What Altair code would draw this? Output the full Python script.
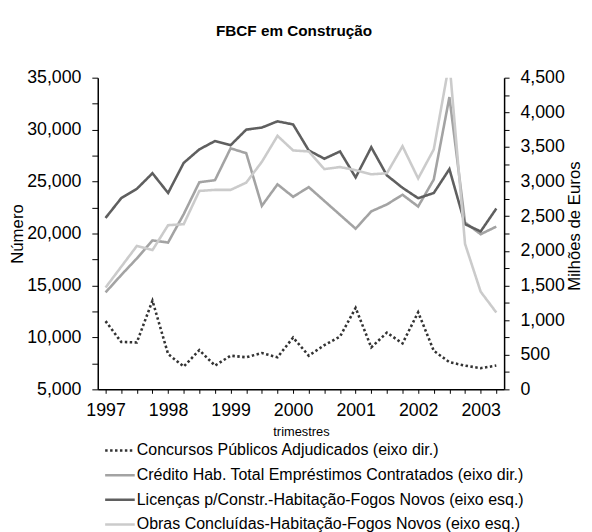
import altair as alt
import pandas as pd

quarters = [1997 + 0.25 * i for i in range(26)]

series_names = [
    "Concursos Públicos Adjudicados (eixo dir.)",
    "Crédito Hab. Total Empréstimos Contratados (eixo dir.)",
    "Licenças p/Constr.-Habitação-Fogos Novos (eixo esq.)",
    "Obras Concluídas-Habitação-Fogos Novos (eixo esq.)",
]
series_colors = ["#333333", "#a3a3a3", "#5f5f5f", "#cbcbcb"]
series_dash = [[2.5, 2.5], [1, 0], [1, 0], [1, 0]]

# left axis (Número)
licencas = [21500, 23400, 24300, 25800, 23900, 26800, 28100, 28900, 28500, 30000,
            30200, 30800, 30500, 28000, 27200, 27900, 25400, 28300, 25600, 24400,
            23400, 23900, 26200, 20900, 20200, 22400]
obras = [14800, 16800, 18800, 18400, 20800, 20900, 24100, 24200, 24200, 24900,
         26900, 29400, 28000, 27900, 26200, 26400, 26100, 25700, 25800, 28400,
         25300, 28100, 36500, 19000, 14400, 12400]
# right axis (Milhões de Euros)
concursos = [985, 685, 677, 1280, 510, 329, 567, 343, 486, 463,
             524, 463, 748, 486, 638, 762, 1176, 606, 819, 663,
             1113, 557, 392, 343, 306, 343]
credito = [1400, 1650, 1890, 2150, 2120, 2530, 2990, 3020, 3480, 3410,
           2650, 2960, 2780, 2920, 2720, 2520, 2320, 2570, 2670, 2810,
           2640, 3030, 4220, 2410, 2240, 2350]

left_df = pd.concat([
    pd.DataFrame({"t": quarters, "v": licencas, "s": series_names[2]}),
    pd.DataFrame({"t": quarters, "v": obras, "s": series_names[3]}),
])
right_df = pd.concat([
    pd.DataFrame({"t": quarters, "v": concursos, "s": series_names[0]}),
    pd.DataFrame({"t": quarters, "v": credito, "s": series_names[1]}),
])

FONT = "Liberation Sans"

x_enc = alt.X(
    "t:Q",
    scale=alt.Scale(domain=[1996.875, 2003.375], nice=False, zero=False),
    axis=alt.Axis(
        values=quarters,
        labelExpr="datum.value % 1 == 0 ? toString(datum.value) : ''",
        grid=False, tickSize=4, labelFontSize=18, labelOverlap=False,
        labelFlush=False, labelPadding=9,
        title="trimestres", titleFontSize=13, titleFontWeight="normal",
        titlePadding=6,
    ),
)

color_enc = alt.Color(
    "s:N",
    scale=alt.Scale(domain=series_names, range=series_colors),
    legend=alt.Legend(
        title=None, orient="none", legendX=13.5, legendY=369, direction="vertical",
        symbolType="M-2,0H2", symbolSize=225, symbolStrokeWidth=2.5,
        labelFontSize=16.2, labelFont=FONT, rowPadding=7, labelLimit=600,
        labelOffset=8, symbolOffset=0,
    ),
)
dash_enc = alt.StrokeDash(
    "s:N",
    scale=alt.Scale(domain=series_names, range=series_dash),
    legend=None,
)

left = alt.Chart(left_df).mark_line(strokeWidth=2.6, clip=True).encode(
    x=x_enc,
    y=alt.Y(
        "v:Q",
        scale=alt.Scale(domain=[5000, 35000], nice=False, zero=False),
        axis=alt.Axis(
            values=list(range(5000, 35001, 2500)),
            labelExpr="datum.value % 5000 == 0 ? format(datum.value, ',') : ''",
            grid=False, tickSize=6, labelFontSize=18, labelPadding=11,
            title="Número", titleFontSize=17, titleFontWeight="normal",
            titleAngle=270, titleX=-81, titleY=158, titleAlign="center",
            titleBaseline="middle",
        ),
    ),
    color=color_enc,
    strokeDash=dash_enc,
)

right = alt.Chart(right_df).mark_line(strokeWidth=2.6, clip=True).encode(
    x=x_enc,
    y=alt.Y(
        "v:Q",
        scale=alt.Scale(domain=[0, 4500], nice=False),
        axis=alt.Axis(
            orient="right",
            values=list(range(0, 4501, 250)),
            labelExpr="datum.value % 500 == 0 ? format(datum.value, ',') : ''",
            grid=False, tickSize=5, labelFontSize=18, labelPadding=11,
            title="Milhões de Euros", titleFontSize=17, titleFontWeight="normal",
            titleAngle=270, titleX=71, titleY=150, titleAlign="center",
            titleBaseline="middle",
        ),
    ),
    color=color_enc,
    strokeDash=dash_enc,
)

chart = alt.layer(right, left).resolve_scale(y="independent").properties(
    width=412,
    height=316,
    autosize=alt.AutoSizeParams(type="none"),
    padding={"left": 91, "top": 67, "right": 81, "bottom": 143},
    title=alt.TitleParams(
        "FBCF em Construção", fontSize=15.5, fontWeight="bold", font=FONT,
        anchor="middle", frame="group", dx=-7, offset=30, color="black",
    ),
).configure_view(stroke=None).configure_axis(
    labelFont=FONT, titleFont=FONT, labelColor="black", titleColor="black",
    domainColor="black", tickColor="black", domainWidth=1.5, tickWidth=1,
).configure_legend(labelColor="black")

chart.save("out.html", embed_options={"renderer": "svg", "actions": False})
